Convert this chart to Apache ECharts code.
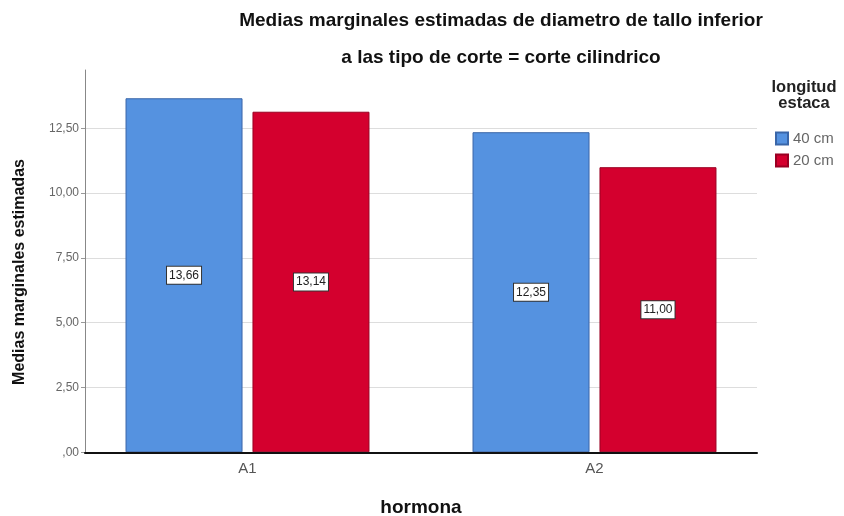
<!DOCTYPE html>
<html><head><meta charset="utf-8">
<script src="https://cdn.jsdelivr.net/npm/echarts@6/dist/echarts.min.js"></script>
<style>html,body{margin:0;padding:0;background:#fff}#c{width:844px;height:516px}</style>
</head><body><div id="c"></div>
<script>
const categories = ['A1', 'A2'];
const seriesNames = ['40 cm', '20 cm'];
const values40 = [13.66, 12.35];
const values20 = [13.14, 11.00];
const yTicks = [0, 2.5, 5, 7.5, 10, 12.5];
const titleLines = ['Medias marginales estimadas de diametro de tallo inferior', 'a las tipo de corte = corte cilindrico'];

const fmt = v => { let s = v.toFixed(2).replace('.', ','); if (s.startsWith('0,')) s = s.slice(1); return s; };
const chart = echarts.init(document.getElementById('c'));
const F = 'Liberation Sans, Arial, sans-serif';
const YMAX = 14.75;
const lbl = {
  show: true, position: 'inside', formatter: p => fmt(p.value),
  color: '#222', fontSize: 12, fontFamily: F, backgroundColor: '#fff',
  borderColor: '#333', borderWidth: 1, padding: [3, 2, 2, 2]
};
chart.setOption({
  animation: false,
  graphic: [
    { type: 'text', x: 501, y: 21, style: { text: titleLines[0], fontFamily: F, fontSize: 19, fontWeight: 'bold', fill: '#111', textAlign: 'center', textVerticalAlign: 'middle' } },
    { type: 'text', x: 501, y: 58, style: { text: titleLines[1], fontFamily: F, fontSize: 19, fontWeight: 'bold', fill: '#111', textAlign: 'center', textVerticalAlign: 'middle' } },
    { type: 'text', x: 804, y: 95, style: { text: 'longitud\nestaca', fontFamily: F, fontSize: 16.5, fontWeight: 'bold', fill: '#222', lineHeight: 16, textAlign: 'center', textVerticalAlign: 'middle' } },
    { type: 'text', x: 20, y: 272, rotation: Math.PI / 2, style: { text: 'Medias marginales estimadas', fontFamily: F, fontSize: 16, fontWeight: 'bold', fill: '#111', textAlign: 'center', textVerticalAlign: 'middle' } },
    { type: 'text', x: 421, y: 508, style: { text: 'hormona', fontFamily: F, fontSize: 19, fontWeight: 'bold', fill: '#111', textAlign: 'center', textVerticalAlign: 'middle' } }
  ],
  legend: {
    orient: 'vertical', left: 770, top: 126, itemWidth: 12, itemHeight: 12, itemGap: 7,
    icon: 'rect', data: seriesNames,
    textStyle: { fontFamily: F, fontSize: 15, color: '#666' }
  },
  grid: [
    { left: 74, right: 76, top: 70, bottom: 63.7 },
    { left: 85, right: 87, top: 70, bottom: 63.7 }
  ],
  xAxis: [
    { type: 'category', data: categories, gridIndex: 0,
      axisLine: { show: false }, axisTick: { show: false },
      axisLabel: { fontFamily: F, fontSize: 15, color: '#555', margin: 9 } },
    { type: 'value', gridIndex: 1, min: 0, max: 1, z: 5,
      axisLine: { show: true, onZero: false, lineStyle: { color: '#111', width: 2 } },
      axisTick: { show: false }, axisLabel: { show: false }, splitLine: { show: false } }
  ],
  yAxis: [
    { type: 'value', gridIndex: 0, min: 0, max: YMAX, show: false, splitLine: { show: false } },
    { type: 'value', gridIndex: 1, min: 0, max: YMAX, interval: 2.5,
      axisLine: { show: true, lineStyle: { color: '#888', width: 1 } },
      axisTick: { show: true, length: 4, lineStyle: { color: '#999' } },
      axisLabel: { fontFamily: F, fontSize: 12, color: '#666', showMaxLabel: false, margin: 6,
        formatter: v => yTicks.includes(v) ? fmt(v) : '' },
      splitLine: { show: true, lineStyle: { color: ['#ddd','#ddd','#ddd','#ddd','#ddd','#ddd','rgba(0,0,0,0)'] } } }
  ],
  series: [
    { name: seriesNames[0], type: 'bar', xAxisIndex: 0, yAxisIndex: 0, data: values40, barWidth: 117, barGap: '8.5%',
      itemStyle: { color: '#5592e0', borderColor: '#3a66a8', borderWidth: 1 }, label: lbl },
    { name: seriesNames[1], type: 'bar', xAxisIndex: 0, yAxisIndex: 0, data: values20, barWidth: 117,
      itemStyle: { color: '#d4002e', borderColor: '#9a0022', borderWidth: 1 }, label: lbl }
  ]
});
</script></body></html>
